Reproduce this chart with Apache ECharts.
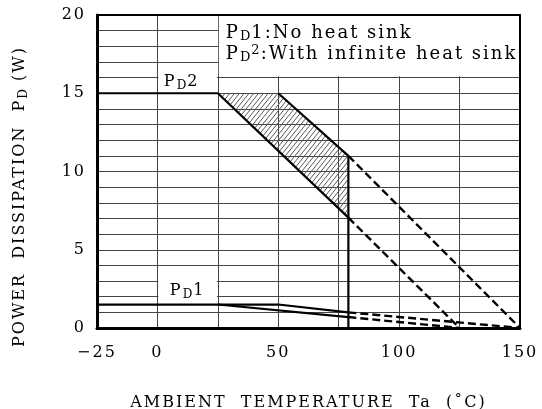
<!DOCTYPE html>
<html><head><meta charset="utf-8">
<script src="https://cdn.jsdelivr.net/npm/echarts@6/dist/echarts.min.js"></script>
<style>html,body{margin:0;padding:0;background:#fff}#c{width:542px;height:409px}</style>
</head><body><div id="c"></div>
<script>
// ---- data ----
const xLabelValues = [-25, 0, 50, 100, 150];
const yLabelValues = [0, 5, 10, 15, 20];
// PD2 : with infinite heat sink
const pd2LowSolid  = [[-25, 15], [25, 15], [79, 7.05]];
const pd2LowDash   = [[79, 7.05], [125, 0]];
const pd2HighSolid = [[50, 15], [79, 11]];
const pd2HighDash  = [[79, 11], [150, 0]];
// PD1 : no heat sink
const pd1LowSolid  = [[-25, 1.5], [25, 1.5], [79, 0.7]];
const pd1LowDash   = [[79, 0.7], [125, 0]];
const pd1HighSolid = [[25, 1.5], [50, 1.5], [79, 1.0]];
const pd1HighDash  = [[79, 1.0], [150, 0]];
// case temperature limit line
const tcLine = [[79, 0], [79, 11]];
// hatched region (between the two PD2 curves)
const hatchPoly = [pd2LowSolid[1], pd2HighSolid[0], pd2HighSolid[1], pd2LowSolid[2]];

// ---- letter spacing for the wide datasheet-style font ----
(function(){
  const P = CanvasRenderingContext2D.prototype;
  if (!('letterSpacing' in P)) return;
  const sp = f => { const m = /(\d+(?:\.\d+)?)px/.exec(f); const s = m ? +m[1] : 12; return s >= 14 ? '2px' : '1px'; };
  ['fillText','strokeText','measureText'].forEach(n => {
    const o = P[n];
    P[n] = function(){ this.letterSpacing = sp(this.font); return o.apply(this, arguments); };
  });
})();

const FONT = "'DejaVu Serif', serif";
const rich = {
  t: {fontFamily: FONT, fontSize: 16, color: '#000', lineHeight: 21, verticalAlign: 'middle'},
  s: {fontFamily: FONT, fontSize: 12, color: '#000', lineHeight: 10, verticalAlign: 'bottom'},
  u: {fontFamily: FONT, fontSize: 12, color: '#000', lineHeight: 14, verticalAlign: 'top'}
};
const richLeg = {
  t: {fontFamily: FONT, fontSize: 18, color: '#000', lineHeight: 21, verticalAlign: 'middle'},
  s: {fontFamily: FONT, fontSize: 13, color: '#000', lineHeight: 10, verticalAlign: 'bottom'},
  u: {fontFamily: FONT, fontSize: 13, color: '#000', lineHeight: 14, verticalAlign: 'top'}
};

function hatchLines(pts, k, step){
  const f = p => k * p[0] + p[1];
  const vals = pts.map(f);
  const lo = Math.min(...vals), hi = Math.max(...vals);
  const out = [];
  for (let c = lo + step / 2; c < hi; c += step){
    const ints = [];
    for (let i = 0; i < pts.length; i++){
      const p = pts[i], q = pts[(i + 1) % pts.length];
      const fp = f(p) - c, fq = f(q) - c;
      if ((fp <= 0 && fq > 0) || (fp > 0 && fq <= 0)){
        const t = fp / (fp - fq);
        ints.push([p[0] + t * (q[0] - p[0]), p[1] + t * (q[1] - p[1])]);
      }
    }
    if (ints.length >= 2){
      ints.sort((a, b) => a[0] - b[0]);
      const a = ints[0], b = ints[ints.length - 1];
      out.push({type: 'line', shape: {x1: a[0], y1: a[1], x2: b[0], y2: b[1]}, style: {stroke: '#555', lineWidth: 1}});
    }
  }
  return out;
}

const solid = {color: '#000', width: 2.2, type: 'solid'};
const dashed = {color: '#000', width: 2.4, type: [8, 4]};
function lineSeries(data, style, extra){
  return Object.assign({type: 'line', data, symbol: 'none', lineStyle: style, z: 3, silent: true, animation: false, xAxisIndex: 0, yAxisIndex: 0}, extra || {});
}

const chart = echarts.init(document.getElementById('c'), null, {renderer: 'canvas'});
chart.setOption({
  animation: false,
  grid: {left: 97, right: 22, top: 15, bottom: 81, containLabel: false, outerBoundsMode: 'none'},
  xAxis: [{
    type: 'value', min: -25, max: 150, interval: 25, position: 'bottom',
    axisLine: {show: true, onZero: false, lineStyle: {color: '#000', width: 3}},
    axisTick: {show: false},
    splitLine: {show: true, lineStyle: {color: '#444', width: 1}},
    axisLabel: {margin: 16, fontFamily: FONT, fontSize: 16, color: '#000',
      formatter: v => xLabelValues.includes(v) ? (v < 0 ? '\u2212' + (-v) : String(v)) : ''},
    name: 'AMBIENT  TEMPERATURE  Ta  (\u02daC)', nameLocation: 'middle', nameGap: 66,
    nameTextStyle: {fontFamily: FONT, fontSize: 16, color: '#000'}
  }, {
    type: 'value', min: -25, max: 150, position: 'top', z: 10,
    axisLine: {show: true, onZero: false, lineStyle: {color: '#000', width: 2}},
    axisTick: {show: false}, axisLabel: {show: false}, splitLine: {show: false}
  }],
  yAxis: [{
    type: 'value', min: 0, max: 20, interval: 1,
    axisLine: {show: true, onZero: false, lineStyle: {color: '#000', width: 3}},
    axisTick: {show: false},
    splitLine: {show: true, lineStyle: {color: '#444', width: 1}},
    axisLabel: {margin: 11, fontFamily: FONT, fontSize: 16, color: '#000',
      formatter: v => yLabelValues.includes(v) ? String(v) : ''},
    name: '{t|POWER  DISSIPATION  P}{s|D}{t| (W)}', nameLocation: 'middle', nameGap: 67,
    nameTextStyle: {rich, padding: [0, 50, 0, 0]}
  }, {
    type: 'value', min: 0, max: 20, position: 'right', z: 10,
    axisLine: {show: true, onZero: false, lineStyle: {color: '#000', width: 2}},
    axisTick: {show: false}, axisLabel: {show: false}, splitLine: {show: false}
  }],
  series: [
    {
      type: 'custom', silent: true, z: 2, xAxisIndex: 0, yAxisIndex: 0,
      data: [hatchPoly[0]],
      renderItem: (params, api) => {
        const pts = hatchPoly.map(p => api.coord(p));
        return {type: 'group', children: hatchLines(pts, 1.25, 6)};
      }
    },
    lineSeries(pd2LowSolid, solid, {
      markArea: {
        silent: true,
        itemStyle: {color: '#fff', borderWidth: 0, opacity: 1},
        data: [
          [{xAxis: 25.4, yAxis: 16.08, label: {show: true, position: 'insideLeft', distance: 7, offset: [0, -2],
              formatter: '{t|P}{s|D}{t|1:No heat sink}\n{t|P}{s|D}{u|2}{t|:With infinite heat sink}', rich: richLeg}},
           {xAxis: 150, yAxis: 20}],
          [{xAxis: 0.4, yAxis: 15.08, label: {show: true, position: 'inside', offset: [-6, 4],
              formatter: '{t|P}{s|D}{t|2}', rich}},
           {xAxis: 24.6, yAxis: 16.93}],
          [{xAxis: 0.4, yAxis: 1.65, label: {show: true, position: 'inside', offset: [0, 0],
              formatter: '{t|P}{s|D}{t|1}', rich}},
           {xAxis: 24.6, yAxis: 3.08}]
        ]
      }
    }),
    lineSeries(pd2LowDash, dashed),
    lineSeries(pd2HighSolid, solid),
    lineSeries(pd2HighDash, dashed),
    lineSeries(pd1LowSolid, solid),
    lineSeries(pd1LowDash, dashed),
    lineSeries(pd1HighSolid, solid),
    lineSeries(pd1HighDash, dashed),
    lineSeries(tcLine, {color: '#000', width: 2.2, type: 'solid'})
  ]
});
</script></body></html>
